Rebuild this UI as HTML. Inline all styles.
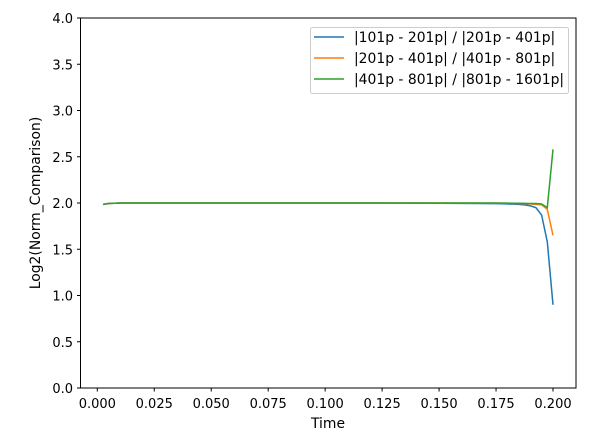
<!DOCTYPE html>
<html><head><meta charset="utf-8"><style>
body{margin:0;background:#fff}
svg text{font-family:"DejaVu Sans","Liberation Sans",sans-serif;font-size:13.9px;fill:#000}
</style></head><body>
<svg id="chart" width="592" height="440" xmlns="http://www.w3.org/2000/svg">
<rect width="592" height="440" fill="#fff"/>
<g id="series"></g>
<rect x="80.5" y="18" width="495.5" height="370" fill="none" stroke="#000" stroke-width="1"/>
<g id="axes"></g>
<text x="328" y="428" text-anchor="middle">Time</text>
<text transform="translate(40,203) rotate(-90)" text-anchor="middle">Log2(Norm_Comparison)</text>
<g>
<rect x="310.5" y="27.5" width="258" height="66" rx="2" fill="#fff" fill-opacity="0.8" stroke="#ccc"/>
<line x1="314" y1="37" x2="344" y2="37" stroke="#1f77b4" stroke-width="1.5"/>
<text x="354" y="42">|101p - 201p| / |201p - 401p|</text>
<line x1="314" y1="58" x2="344" y2="58" stroke="#ff7f0e" stroke-width="1.5"/>
<text x="354" y="63">|201p - 401p| / |401p - 801p|</text>
<line x1="314" y1="79" x2="344" y2="79" stroke="#2ca02c" stroke-width="1.5"/>
<text x="354" y="84">|401p - 801p| / |801p - 1601p|</text>
</g>
</svg>
<script>
const times = [0.0025,0.005,0.0075,0.01,0.025,0.05,0.075,0.1,0.125,0.15,0.175,0.18,0.1825,0.185,0.1875,0.19,0.1925,0.195,0.1975,0.2];
const blueVals = [1.985,1.995,1.998,2.0,2.0,2.0,2.0,2.0,2.0,1.998,1.993,1.99,1.988,1.985,1.98,1.97,1.95,1.87,1.58,0.9];
const orangeVals = [1.985,1.995,1.998,2.0,2.0,2.0,2.0,2.0,2.0,2.0,1.999,1.997,1.996,1.995,1.993,1.99,1.985,1.98,1.93,1.65];
const greenVals = [1.985,1.995,1.998,2.0,2.0,2.0,2.0,2.0,2.0,2.0,2.0,1.999,1.998,1.997,1.996,1.995,1.994,1.99,1.95,2.58];
const xTicks = ["0.000","0.025","0.050","0.075","0.100","0.125","0.150","0.175","0.200"];
const yTicks = ["0.0","0.5","1.0","1.5","2.0","2.5","3.0","3.5","4.0"];
const NS="http://www.w3.org/2000/svg";
function xs(v){return 97.3+v*(553-97.3)/0.2;}
function ys(v){return 388-v*370/4;}
const axes=document.getElementById('axes');
xTicks.forEach(t=>{
  const x=xs(parseFloat(t));
  const l=document.createElementNS(NS,'line');
  l.setAttribute('x1',x);l.setAttribute('x2',x);l.setAttribute('y1',388);l.setAttribute('y2',391.5);l.setAttribute('stroke','#000');
  
  
  axes.appendChild(l);
  const tx=document.createElementNS(NS,'text');
  tx.setAttribute('x',x);tx.setAttribute('y',408);tx.setAttribute('text-anchor','middle');tx.setAttribute('font-size','13');tx.style.fontSize='13px';tx.textContent=t;
  
  
  axes.appendChild(tx);
});
yTicks.forEach(t=>{
  const y=ys(parseFloat(t));
  const l=document.createElementNS(NS,'line');
  l.setAttribute('x1',77);l.setAttribute('x2',80.5);l.setAttribute('y1',y);l.setAttribute('y2',y);l.setAttribute('stroke','#000');
  
  
  axes.appendChild(l);
  const tx=document.createElementNS(NS,'text');
  tx.setAttribute('x',73);tx.setAttribute('y',y+5);tx.setAttribute('text-anchor','end');tx.style.fontSize='13px';tx.textContent=t;
  
  
  axes.appendChild(tx);
});
const series=document.getElementById('series');
[[blueVals,'#1f77b4','blue'],[orangeVals,'#ff7f0e','orange'],[greenVals,'#2ca02c','green']].forEach(([vals,c,n])=>{
  const p=document.createElementNS(NS,'polyline');
  p.setAttribute('points',vals.map((v,i)=>xs(times[i]).toFixed(2)+','+ys(v).toFixed(2)).join(' '));
  p.setAttribute('fill','none');p.setAttribute('stroke',c);p.setAttribute('stroke-width','1.5');
  
  
  series.appendChild(p);
});
</script>
</body></html>
